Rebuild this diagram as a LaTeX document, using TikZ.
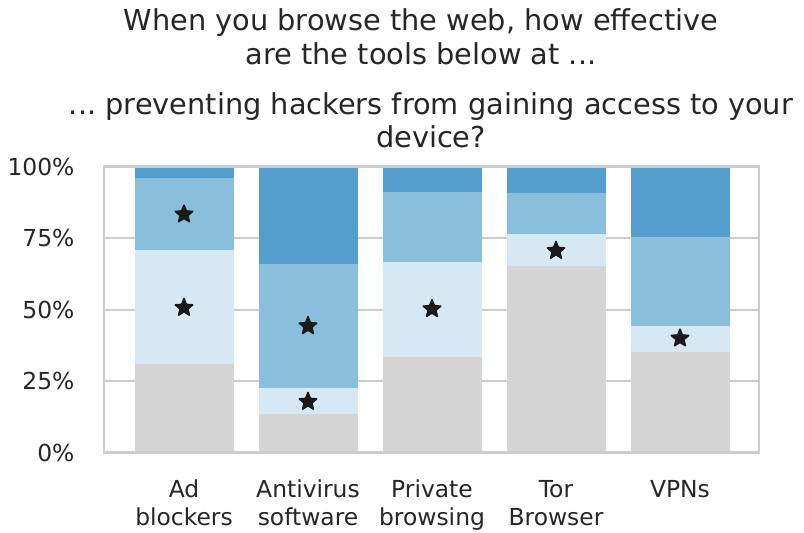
\documentclass[tikz,border=0pt]{standalone}
\usepackage{fontspec}
\setmainfont{DejaVu Sans}
\usepackage{tikz}
\usetikzlibrary{shapes.geometric}
\frenchspacing
\definecolor{txtgray}{HTML}{262626}
\definecolor{framegray}{HTML}{CCCCCC}
\definecolor{barnone}{HTML}{D4D4D4}
\definecolor{barlight}{HTML}{D7E8F5}
\definecolor{barmid}{HTML}{89BEDC}
\definecolor{bardark}{HTML}{539ECD}
\definecolor{starblack}{HTML}{1A1A1A}
\tikzset{
  titletext/.style={text=txtgray, anchor=base, inner sep=0pt, font=\fontsize{28.8}{34}\selectfont},
  ticktext/.style={text=txtgray, font=\fontsize{23.4}{28}\selectfont},
  xticktext/.style={ticktext, anchor=base, inner sep=0pt},
  starmark/.style={star, star points=5, star point ratio=2.3, fill=starblack,
    draw=starblack, line width=1pt, rounded corners=0.8pt, minimum size=20pt, inner sep=0pt},
  gridline/.style={framegray, line width=2pt}
}
\begin{document}
\begin{tikzpicture}[x=1pt,y=-1pt]
\useasboundingbox (0,0) rectangle (804,533);
% titles
\node[titletext] (title1) at (421,30.7) {When you browse the web, how effective};
\node[titletext] (title2) at (421,64) {are the tools below at ...};
\node[titletext] (subtitle1) at (431,114.3) {... preventing hackers from gaining access to your};
\node[titletext] (subtitle2) at (431,147.6) {device?};
% grid
\draw[gridline] (104,238) -- (759,238);
\draw[gridline] (104,309.5) -- (759,309.5);
\draw[gridline] (104,381) -- (759,381);
% Ad blockers
\fill[barnone] (134.5,452.5) rectangle (233.5,364.3);
\fill[barlight] (134.5,364.3) rectangle (233.5,250.3);
\fill[barmid] (134.5,250.3) rectangle (233.5,177.7);
\fill[bardark] (134.5,177.7) rectangle (233.5,166.5);
% Antivirus software
\fill[barnone] (258.5,452.5) rectangle (357.5,413.7);
\fill[barlight] (258.5,413.7) rectangle (357.5,388.3);
\fill[barmid] (258.5,388.3) rectangle (357.5,263.7);
\fill[bardark] (258.5,263.7) rectangle (357.5,166.5);
% Private browsing
\fill[barnone] (382.5,452.5) rectangle (481.5,356.7);
\fill[barlight] (382.5,356.7) rectangle (481.5,261.7);
\fill[barmid] (382.5,261.7) rectangle (481.5,191.7);
\fill[bardark] (382.5,191.7) rectangle (481.5,166.5);
% Tor Browser
\fill[barnone] (506.5,452.5) rectangle (605.5,266);
\fill[barlight] (506.5,266) rectangle (605.5,234);
\fill[barmid] (506.5,234) rectangle (605.5,193.3);
\fill[bardark] (506.5,193.3) rectangle (605.5,166.5);
% VPNs
\fill[barnone] (630.5,452.5) rectangle (729.5,351.7);
\fill[barlight] (630.5,351.7) rectangle (729.5,325.7);
\fill[barmid] (630.5,325.7) rectangle (729.5,237.3);
\fill[bardark] (630.5,237.3) rectangle (729.5,166.5);
% stars
\node[starmark] (s1a) at (184,214.3) {};
\node[starmark] (s1b) at (184,307.7) {};
\node[starmark] (s2a) at (308,326) {};
\node[starmark] (s2b) at (308,401.7) {};
\node[starmark] (s3) at (432,309) {};
\node[starmark] (s4) at (556,250.7) {};
\node[starmark] (s5) at (680,338.3) {};
% frame
\draw[framegray, line width=2.5pt] (104,166.5) rectangle (759,452.5);
% y ticks
\node[ticktext, anchor=east] (y100) at (78,166.5) {100\%};
\node[ticktext, anchor=east] (y75) at (78,238) {75\%};
\node[ticktext, anchor=east] (y50) at (78,309.5) {50\%};
\node[ticktext, anchor=east] (y25) at (78,381) {25\%};
\node[ticktext, anchor=east] (y0) at (78,452.5) {0\%};
% x ticks
\node[xticktext] (xad1) at (184,497.3) {Ad};
\node[xticktext] (xad2) at (184,525) {blockers};
\node[xticktext] (xav1) at (308,497.3) {Antivirus};
\node[xticktext] (xav2) at (308,525) {software};
\node[xticktext] (xpb1) at (432,497.3) {Private};
\node[xticktext] (xpb2) at (432,525) {browsing};
\node[xticktext] (xtor1) at (556,497.3) {Tor};
\node[xticktext] (xtor2) at (556,525) {Browser};
\node[xticktext] (xvpn) at (680,497.3) {VPNs};
\end{tikzpicture}
\end{document}
